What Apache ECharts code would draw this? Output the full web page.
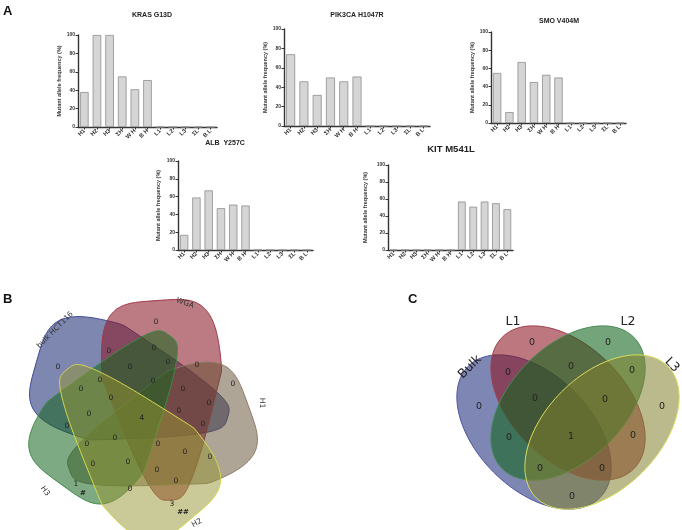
<!DOCTYPE html>
<html><head><meta charset="utf-8">
<script src="https://cdn.jsdelivr.net/npm/echarts@6/dist/echarts.min.js"></script>
<style>html,body{margin:0;padding:0;background:#fff}#c{width:682px;height:530px}</style>
</head><body><div id="c"></div>
<script>
// ---------------- DATA ----------------
const categories = ['H1','H2','H3','ΣH','W H','B H','L1','L2','L3','ΣL','B L'];
const panelTitles = ['KRAS G13D','PIK3CA H1047R','SMO V404M','ALB  Y257C','KIT M541L'];
const krasG13D    = [38,100,100,55,41,51,0,0,0,0,0];
const pik3caH1047R= [74,46,32,50,46,51,0,0,0,0,0];
const smoV404M    = [55,12,67,45,53,50,0,0,0,0,0];
const albY257C    = [17,59,67,47,51,50,0,0,0,0,0];
const kitM541L    = [0,0,0,0,0,0,57,51,57,55,48];
const yTickMin = 0, yTickMax = 100, yTickStep = 20;
const yAxisName = 'Mutant allele frequency (%)';

const vennBSets = ['bulk HCT116','WGA','H1','H2','H3'];
const vennBCounts = [0,0,0,0,0,0,0,0,0,0,0,0,0,0,0,4,0,0,0,0,0,0,0,0,0,0,0,0,0,1,3];
const vennBNotes = ['#','##'];
const vennCSets = ['Bulk','L1','L2','L3'];
const vennCCounts = [0,0,0,0,0,0,0,0,0,0,1,0,0,0,0];

// ---------------- LAYOUT ----------------
const seriesList = [krasG13D, pik3caH1047R, smoV404M, albY257C, kitM541L];
const gridsPx = [
  {left:78, top:35, width:139, height:92},
  {left:284, top:29, width:146, height:97},
  {left:491, top:32, width:135, height:91},
  {left:178, top:161, width:135, height:89},
  {left:388, top:165, width:125, height:85}
];
const titlePos = [[152,15,7],[357,15,7],[559,21,7],[225,143,7],[451,149,9.5]];
const nameGaps = [15,16,16,17,20];

const FONT = 'Liberation Sans, Arial, sans-serif';
const VFONT = 'DejaVu Sans, sans-serif';

const grid = [], xAxis = [], yAxis = [], series = [];
gridsPx.forEach((g, i) => {
  grid.push(Object.assign({containLabel:false}, g));
  xAxis.push({
    type:'category', gridIndex:i, data:categories,
    axisLine:{lineStyle:{color:'#333', width:1.4}},
    axisTick:{show:true, alignWithLabel:true, length:2.5, lineStyle:{color:'#333', width:1}},
    axisLabel:{rotate:45, interval:0, fontSize:5.8, margin:3, color:'#333', fontFamily:FONT, fontWeight:'bold'},
    splitLine:{show:false}
  });
  yAxis.push({
    type:'value', gridIndex:i, min:yTickMin, max:yTickMax, interval:yTickStep,
    axisLine:{show:true, lineStyle:{color:'#333', width:1.4}},
    axisTick:{show:true, length:2.5, lineStyle:{color:'#333', width:1}},
    axisLabel:{fontSize:5, margin:3, color:'#333', fontFamily:FONT, fontWeight:'bold'},
    splitLine:{show:false},
    name:yAxisName, nameLocation:'middle', nameGap:nameGaps[i],
    nameTextStyle:{fontSize:5.5, color:'#333', fontFamily:FONT, fontWeight:'bold'}
  });
  series.push({
    type:'bar', xAxisIndex:i, yAxisIndex:i, data:seriesList[i], barWidth:'68%',
    itemStyle:{color:'#d5d5d5', borderColor:'#8e8e8e', borderWidth:0.8},
    silent:true, animation:false
  });
});

const graphic = [];
function txt(x, y, text, size, opts) {
  opts = opts || {};
  graphic.push({
    type:'text', x:x, y:y, rotation:opts.rot || 0, z:opts.z || 10, silent:true,
    style:{text:text, fontSize:size, fontFamily:opts.font || FONT, fontWeight:opts.weight || 'normal',
      fill:opts.color || '#222', align:opts.align || 'center', verticalAlign:'middle',
      textAlign:opts.align || 'center', textVerticalAlign:'middle'}
  });
}
// panel letters
txt(3, 11, 'A', 13, {weight:'bold', align:'left', color:'#111'});
txt(3, 299, 'B', 13, {weight:'bold', align:'left', color:'#111'});
txt(408, 299, 'C', 13, {weight:'bold', align:'left', color:'#111'});
// bar chart titles
panelTitles.forEach((t, i) => txt(titlePos[i][0], titlePos[i][1], t, titlePos[i][2], {weight:'bold', color:'#222'}));

// ---------- Venn B (5 sets) ----------
const BC = [140, 418];
const bStyles = [
  {fill:'rgba(40,55,122,0.6)', stroke:'#3b4796'},
  {fill:'rgba(140,25,40,0.58)', stroke:'#a23848'},
  {fill:'rgba(95,75,45,0.5)', stroke:'#8c7b66'},
  {fill:'rgba(150,150,50,0.5)', stroke:'#d6d84e'},
  {fill:'rgba(20,100,30,0.55)', stroke:'#3f8a46'}
];
const bAngles = [16, 86, 160, 230, 306];
const bUMin = [-115, -116, -106, -110, -100];
function eggPoints(cx, cy, angDeg, uMin) {
  const th = angDeg * Math.PI / 180;
  const ux = Math.cos(th), uy = Math.sin(th), vx = -uy, vy = ux;
  const uMax = 84, vC = -25, W1 = 60, W2 = 19, uK = -42, p = 0.5;
  const um = (uMin + uMax) / 2, R = (uMax - uMin) / 2;
  const pts = [];
  for (let k = 0; k < 200; k++) {
    const a = 2 * Math.PI * k / 200, ca = Math.cos(a), sa = Math.sin(a);
    const cu = Math.sign(ca) * Math.pow(Math.abs(ca), p);
    const su = Math.sign(sa) * Math.pow(Math.abs(sa), p);
    const u = um + R * cu;
    const hw = u < uK ? W1 : W1 - (W1 - W2) * (u - uK) / (uMax - uK);
    const v = vC + hw * su;
    pts.push([cx + u * ux + v * vx, cy + u * uy + v * vy]);
  }
  return pts;
}
[0,1,2,4,3].forEach((i, order) => {
  graphic.push({type:'polygon', silent:true, z:1 + order,
    shape:{points:eggPoints(BC[0], BC[1], bAngles[i], bUMin[i])},
    style:{fill:bStyles[i].fill, stroke:bStyles[i].stroke, lineWidth:1}});
});
const vennBPos = [[156,322],[58,367],[109,351],[154,348],[168,362],[197,365],[130,367],[233,384],
  [100,380],[81,389],[153,381],[183,389],[111,398],[209,403],[89,414],[142,418],[179,411],[67,426],
  [203,424],[115,438],[87,444],[158,444],[185,452],[210,457],[93,464],[128,462],[157,470],[176,481],
  [130,489],[76,484],[172,504]];
vennBCounts.forEach((c, k) => txt(vennBPos[k][0], vennBPos[k][1], String(c), 7.5, {font:VFONT, z:20}));
txt(83, 493, vennBNotes[0], 7, {font:VFONT, z:20, weight:'bold'});
txt(183, 512, vennBNotes[1], 7, {font:VFONT, z:20, weight:'bold'});
const vennBLabelPos = [[55,330,Math.PI/4],[185,303,-0.35],[262,403,-Math.PI/2],[197,523,0.5],[45,491,-0.95]];
vennBSets.forEach((s, k) => txt(vennBLabelPos[k][0], vennBLabelPos[k][1], s, 7.5, {font:VFONT, rot:vennBLabelPos[k][2], z:20, color:'#333'}));

// ---------- Venn C (4 sets) ----------
const cEll = [[534,432,45],[568,403,45],[568,403,-45],[602,432,-45]];
const cStyles = [
  {fill:'rgba(40,55,130,0.6)', stroke:'#4a55a0'},
  {fill:'rgba(140,20,35,0.58)', stroke:'#a04050'},
  {fill:'rgba(15,100,25,0.58)', stroke:'#4a8a55'},
  {fill:'rgba(130,130,45,0.55)', stroke:'#d8dc5a'}
];
function ellPoints(cx, cy, rx, ry, phiDeg) {
  const ph = phiDeg * Math.PI / 180, cp = Math.cos(ph), sp = Math.sin(ph);
  const pts = [];
  for (let k = 0; k < 120; k++) {
    const t = 2 * Math.PI * k / 120, ct = Math.cos(t), st = Math.sin(t);
    pts.push([cx + rx * ct * cp - ry * st * sp, cy + rx * ct * sp + ry * st * cp]);
  }
  return pts;
}
cEll.forEach((e, i) => {
  graphic.push({type:'polygon', silent:true, z:1 + i,
    shape:{points:ellPoints(e[0], e[1], 93, 57, e[2])},
    style:{fill:cStyles[i].fill, stroke:cStyles[i].stroke, lineWidth:1}});
});
const vennCPos = [[532,343],[608,343],[508,373],[571,367],[632,371],[479,407],[535,399],[605,400],
  [662,407],[509,438],[571,437],[633,436],[540,469],[602,469],[572,497]];
vennCCounts.forEach((c, k) => txt(vennCPos[k][0], vennCPos[k][1], String(c), 9.5, {font:VFONT, z:20}));
const vennCLabelPos = [[470,367,Math.PI/4],[513,322,0],[628,322,0],[672,365,-Math.PI/4]];
vennCSets.forEach((s, k) => txt(vennCLabelPos[k][0], vennCLabelPos[k][1], s, 12.5, {font:VFONT, rot:vennCLabelPos[k][2], z:20, color:'#222'}));

const chart = echarts.init(document.getElementById('c'), null, {renderer:'canvas'});
chart.setOption({animation:false, backgroundColor:'#fff', grid, xAxis, yAxis, series, graphic});
</script></body></html>
